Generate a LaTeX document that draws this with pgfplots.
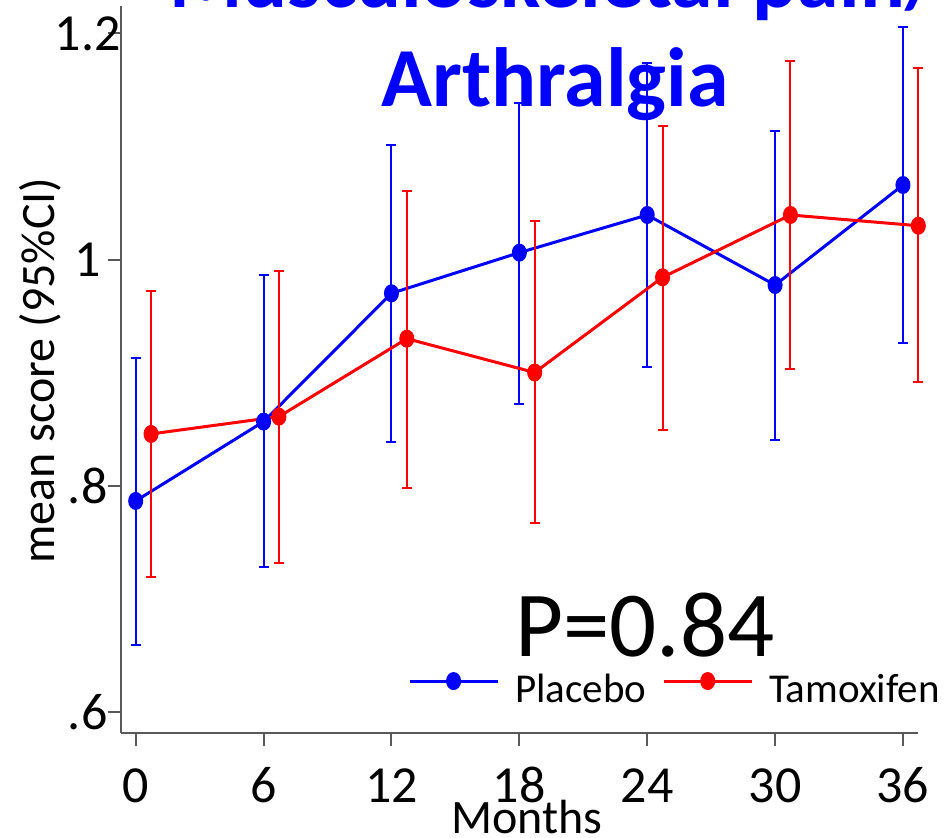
\documentclass[border=0pt]{standalone}
\usepackage{pgfplots}
\pgfplotsset{compat=1.18}
\usepackage{pgfplotstable}
\usepackage{fontspec}
\setmainfont{Carlito}

\pgfplotstableread{
x y lo hi
0  0.7868 0.6595 0.9131
6  0.8569 0.7285 0.9867
12 0.9703 0.8392 1.1014
18 1.0062 0.8725 1.1382
24 1.0395 0.9055 1.1735
30 0.9776 0.8407 1.1140
36 1.0660 0.9261 1.2054
}\placebo

\pgfplotstableread{
x y lo hi
0.72  0.8460 0.7196 0.9723
6.72  0.8613 0.7320 0.9900
12.72 0.9302 0.7980 1.0604
18.72 0.9003 0.7673 1.0345
24.72 0.9844 0.8495 1.1181
30.72 1.0395 0.9034 1.1756
36.72 1.0300 0.8917 1.1691
}\tamox

\begin{document}
\begin{tikzpicture}
\begin{axis}[
  at={(60.35pt,52.65pt)}, anchor=south west,
  scale only axis, width=398.8pt, height=363.35pt,
  xmin=-0.704, xmax=36.72, ymin=0.582, ymax=1.2242,
  clip=false,
  axis x line=bottom, axis y line=left,
  axis line style={-, draw=black!65, line width=1pt},
  tick align=outside, major tick length=6.5pt,
  tick style={draw=black!65, line width=1pt},
  xtick={0,6,12,18,24,30,36}, xticklabels={0,6,12,18,24,30,36},
  ytick={0.6,0.8,1,1.2}, yticklabels={.6,.8,1,1.2},
  tick label style={font=\fontsize{26}{30}\selectfont},
  xticklabel style={anchor=base, yshift=-28.5pt},
  yticklabel style={anchor=center, xshift=-10pt},
  xlabel={Months}, ylabel={mean score (95\%CI)},
  label style={font=\fontsize{24}{28}\selectfont},
  xlabel style={at={(rel axis cs:0.5094,-0.139)}, anchor=base},
  ylabel style={at={(rel axis cs:-0.0824,0.4984)}, anchor=base},
  legend style={draw=none, fill=none, at={(rel axis cs:0.3598,0.0597)}, anchor=west,
    font=\fontsize{20.5}{25}\selectfont, inner sep=0pt,
    nodes={inner sep=0pt, anchor=base west},
    /tikz/every odd column/.append style={column sep=8pt},
    /tikz/every even column/.append style={column sep=8pt}},
  legend columns=2,
  legend image code/.code={\draw[mark repeat=2,mark phase=2,#1] plot coordinates {(0pt,10.5pt) (22pt,10.5pt) (44pt,10.5pt)};},
]
\addplot[blue, line width=1.5pt, mark=*, mark size=3pt, mark options={solid, yscale=1.25},
  error bars/.cd, y dir=both, y explicit,
  error bar style={line width=1pt, blue},
  error mark options={rotate=90, mark size=2.5pt, line width=1pt, blue}]
  table[x=x, y=y, y error plus expr=\thisrow{hi}-\thisrow{y}, y error minus expr=\thisrow{y}-\thisrow{lo}] {\placebo};
\addlegendentry{Placebo}
\addplot[red, line width=1.5pt, mark=*, mark size=3pt, mark options={solid, yscale=1.25},
  error bars/.cd, y dir=both, y explicit,
  error bar style={line width=1pt, red},
  error mark options={rotate=90, mark size=2.5pt, line width=1pt, red}]
  table[x=x, y=y, y error plus expr=\thisrow{hi}-\thisrow{y}, y error minus expr=\thisrow{y}-\thisrow{lo}] {\tamox};
\addlegendentry{Tamoxifen}
\end{axis}
\node[anchor=base, font=\fontsize{42}{50}\selectfont\bfseries, text=blue, inner sep=0pt] at (277.5pt,415pt) {Musculoskeletal pain/};
\node[anchor=base, font=\fontsize{42}{50}\selectfont\bfseries, text=blue, inner sep=0pt] at (277.5pt,365.5pt) {Arthralgia};
\node[anchor=base west, font=\fontsize{46.5}{55}\selectfont, inner sep=0pt] at (257.5pt,90.5pt) {P=0.84};
\pgfresetboundingbox
\path (0pt,0pt) rectangle (473pt,419pt);
\end{tikzpicture}
\end{document}
